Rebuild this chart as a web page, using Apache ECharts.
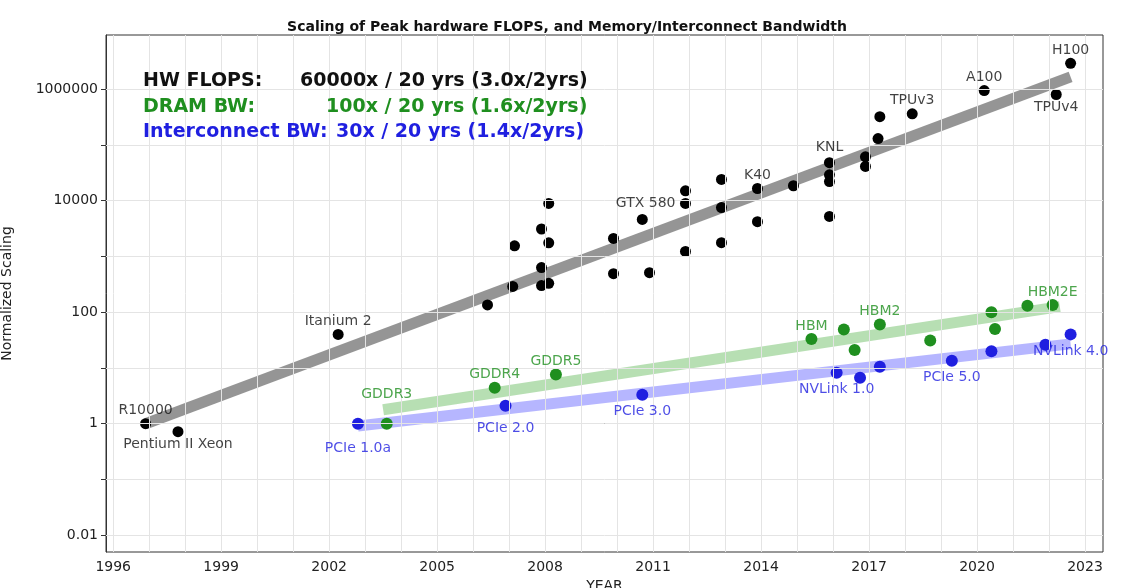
<!DOCTYPE html>
<html>
<head>
<meta charset="utf-8">
<script src="https://cdn.jsdelivr.net/npm/echarts@6/dist/echarts.min.js"></script>
<style>html,body{margin:0;padding:0;background:#fff}#chart{width:1134px;height:588px}</style>
</head>
<body>
<div id="chart"></div>
<script>
// data: [year, value]
var hwFlops = [
  [1996.9, 1], [1997.8, 0.72], [2002.25, 40], [2006.4, 135], [2007.1, 290], [2007.15, 1550],
  [2007.9, 300], [2007.9, 630], [2007.9, 3100], [2008.1, 8900], [2008.1, 1750], [2008.1, 330],
  [2009.9, 2100], [2009.9, 490], [2010.7, 4600], [2010.9, 510], [2011.9, 15000], [2011.9, 8900],
  [2011.9, 1230], [2012.9, 24000], [2012.9, 7500], [2012.9, 1760], [2013.9, 16500], [2013.9, 4200],
  [2014.9, 18500], [2015.9, 48000], [2015.9, 29000], [2015.9, 22000], [2015.9, 5200],
  [2016.9, 61000], [2016.9, 41000], [2017.25, 130000], [2017.3, 320000], [2018.2, 360000],
  [2020.2, 940000], [2022.2, 800000], [2022.6, 2900000]
];
var dramBw = [
  [2003.6, 1], [2006.6, 4.4], [2008.3, 7.6], [2015.4, 33], [2016.3, 49], [2016.6, 21],
  [2017.3, 60], [2018.7, 31], [2020.4, 100], [2020.5, 50], [2021.4, 130], [2022.1, 135]
];
var interBw = [
  [2002.8, 1], [2006.9, 2.1], [2010.7, 3.3], [2016.1, 8.2], [2016.75, 6.7], [2017.3, 10.5],
  [2019.3, 13.5], [2020.4, 20], [2021.9, 26], [2022.6, 40]
];
var hwTrend = [[1996.9, 1], [2022.6, 1660000]];
var dramTrend = [[2003.5, 1.78], [2022.3, 126]];
var interTrend = [[2002.8, 0.91], [2022.6, 27]];

// point labels: [year, value, text, position, distance]
var hwLabels = [
  [1996.9, 1, 'R10000', 'top', 6], [1997.8, 0.72, 'Pentium II Xeon', 'bottom', 6],
  [2002.25, 40, 'Itanium 2', 'top', 6], [2011.9, 8900, 'GTX 580', 'left', 10],
  [2013.9, 16500, 'K40', 'top', 6], [2015.9, 48000, 'KNL', 'top', 8],
  [2018.2, 360000, 'TPUv3', 'top', 6], [2020.2, 940000, 'A100', 'top', 6],
  [2022.6, 2900000, 'H100', 'top', 6], [2022.2, 800000, 'TPUv4', 'bottom', 6]
];
var dramLabels = [
  [2003.6, 1, 'GDDR3', 'top', 22], [2006.6, 4.4, 'GDDR4', 'top', 6], [2008.3, 7.6, 'GDDR5', 'top', 6],
  [2015.4, 33, 'HBM', 'top', 6], [2017.3, 60, 'HBM2', 'top', 6], [2022.1, 135, 'HBM2E', 'top', 6]
];
var interLabels = [
  [2002.8, 1, 'PCIe 1.0a', 'bottom', 18], [2006.9, 2.1, 'PCIe 2.0', 'bottom', 16],
  [2010.7, 3.3, 'PCIe 3.0', 'bottom', 10], [2016.1, 8.2, 'NVLink 1.0', 'bottom', 10],
  [2019.3, 13.5, 'PCIe 5.0', 'bottom', 10], [2022.6, 40, 'NVLink 4.0', 'bottom', 10]
];
var xTicks = [1996, 1999, 2002, 2005, 2008, 2011, 2014, 2017, 2020, 2023];
var yTickExp = [-2, 0, 2, 4, 6];

var GREEN = '#1f8f1f', BLUE = '#1f1fe0';

function lg(d) { return d.map(function (p) { return [p[0], Math.log10(p[1])]; }); }
function labelSeries(arr, color) {
  return {
    type: 'scatter', symbolSize: 0, silent: true, z: 5,
    data: arr.map(function (p) {
      return { value: [p[0], Math.log10(p[1])], label: { show: true, formatter: p[2], position: p[3], distance: p[4], color: color, fontSize: 14 } };
    })
  };
}
var years = []; for (var yy = 1996; yy <= 2023; yy++) years.push(yy);
var decades = []; for (var e = -2; e <= 6; e++) decades.push(e);
var gridStyle = { color: '#e4e4e4', width: 1, type: 'solid' };

var chart = echarts.init(document.getElementById('chart'));
chart.setOption({
  animation: false,
  textStyle: { fontFamily: 'DejaVu Sans' },
  title: { text: 'Scaling of Peak hardware FLOPS, and Memory/Interconnect Bandwidth', left: 'center', top: 15,
    textStyle: { fontSize: 14, fontWeight: 'bold', color: '#111' } },
  grid: { left: 106, right: 31, top: 35, bottom: 36, outerBoundsMode: 'none', containLabel: false,
    show: true, borderColor: '#333', borderWidth: 1 },
  xAxis: {
    type: 'value', min: 1995.8, max: 2023.5, name: 'YEAR', nameLocation: 'middle', nameGap: 22,
    nameTextStyle: { fontSize: 14, color: '#222' },
    splitLine: { show: false },
    axisLine: { lineStyle: { color: '#333' } },
    axisTick: { customValues: xTicks, lineStyle: { color: '#333' } },
    axisLabel: { customValues: xTicks, fontSize: 14, color: '#222', formatter: function (v) { return String(v); } }
  },
  yAxis: {
    type: 'value', min: -2.3, max: 6.97, name: 'Normalized Scaling', nameLocation: 'middle', nameGap: 92,
    nameTextStyle: { fontSize: 14, color: '#222' },
    splitLine: { show: false },
    axisLine: { show: true, lineStyle: { color: '#333' } },
    axisTick: { show: true, customValues: decades, lineStyle: { color: '#333' } },
    axisLabel: { customValues: yTickExp, fontSize: 14, color: '#222',
      formatter: function (v) { var e = Math.round(v); return e < 0 ? (Math.pow(10, e)).toFixed(-e) : String(Math.pow(10, e)); } }
  },
  graphic: [
    { type: 'text', left: 143, top: 72, z: 10, style: { text: 'HW FLOPS:', font: 'bold 19px DejaVu Sans', fill: '#111' } },
    { type: 'text', left: 300, top: 72, z: 10, style: { text: '60000x / 20 yrs (3.0x/2yrs)', font: 'bold 19px DejaVu Sans', fill: '#111' } },
    { type: 'text', left: 143, top: 98, z: 10, style: { text: 'DRAM BW:', font: 'bold 19px DejaVu Sans', fill: GREEN } },
    { type: 'text', left: 326, top: 98, z: 10, style: { text: '100x / 20 yrs (1.6x/2yrs)', font: 'bold 19px DejaVu Sans', fill: GREEN } },
    { type: 'text', left: 143, top: 123, z: 10, style: { text: 'Interconnect BW:', font: 'bold 19px DejaVu Sans', fill: BLUE } },
    { type: 'text', left: 336, top: 123, z: 10, style: { text: '30x / 20 yrs (1.4x/2yrs)', font: 'bold 19px DejaVu Sans', fill: BLUE } }
  ],
  series: [
    { type: 'line', data: [], silent: true, z: 0,
      markLine: { silent: true, symbol: 'none', label: { show: false }, lineStyle: gridStyle,
        data: years.map(function (y) { return { xAxis: y }; }).concat(decades.map(function (d) { return { yAxis: d }; })) } },
    { type: 'line', data: lg(hwTrend), symbol: 'none', lineStyle: { color: '#8a8a8a', width: 11, opacity: 0.9 }, z: 1 },
    { type: 'line', data: lg(dramTrend), symbol: 'none', lineStyle: { color: '#9fd49a', width: 11, opacity: 0.75 }, z: 1 },
    { type: 'line', data: lg(interTrend), symbol: 'none', lineStyle: { color: '#9d9dff', width: 11, opacity: 0.75 }, z: 1 },
    { type: 'scatter', data: lg(hwFlops), symbolSize: 11, itemStyle: { color: '#000', opacity: 1 }, z: 3 },
    { type: 'scatter', data: lg(dramBw), symbolSize: 12, itemStyle: { color: GREEN, opacity: 1 }, z: 3 },
    { type: 'scatter', data: lg(interBw), symbolSize: 12, itemStyle: { color: BLUE, opacity: 1 }, z: 3 },
    labelSeries(hwLabels, '#111'),
    labelSeries(dramLabels, GREEN),
    labelSeries(interLabels, BLUE)
  ]
});
</script>
</body>
</html>
